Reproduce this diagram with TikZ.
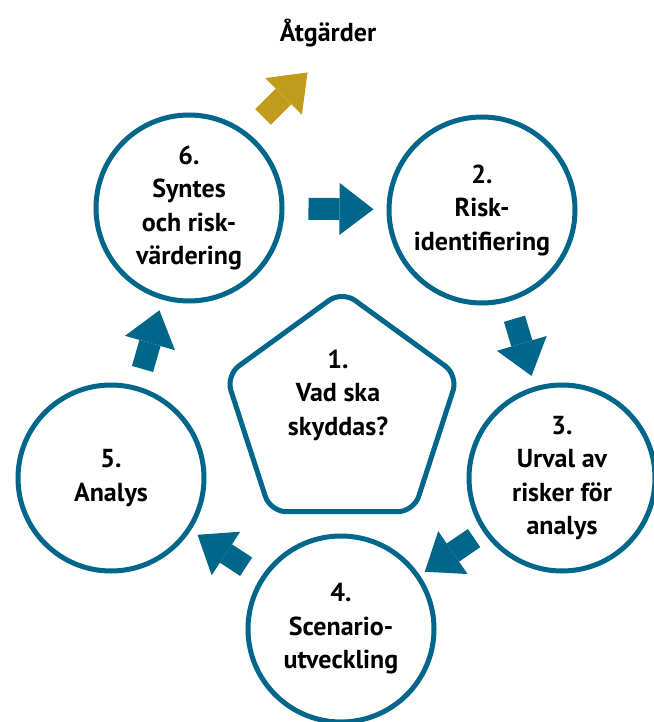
\documentclass[tikz,border=0pt]{standalone}
\usepackage{fontspec}
\setmainfont{PT Sans}
\usetikzlibrary{arrows.meta,shapes.geometric}
\definecolor{riskblue}{RGB}{0,102,138}
\definecolor{riskgold}{RGB}{193,156,28}
\begin{document}
\begin{tikzpicture}[x=1pt,y=1pt,align=center,font=\fontsize{26}{33.5}\selectfont\bfseries,
  fas/.style={circle,draw=riskblue,line width=5pt,minimum size=186pt,inner sep=0pt},
  pil/.style={riskblue,line width=22pt,-{Triangle[length=34pt,width=52pt,line width=0pt]},
    shorten <=18pt,shorten >=11pt}]
  \useasboundingbox (0,0) rectangle (653,-722);
  \node[fas] (c6) at (189,-208) {6.\\Syntes\\och risk-\\värdering};
  \node[fas] (c2) at (482,-210) {2.\\Risk-\\identifiering};
  \node[fas] (c3) at (562,-478) {3.\\Urval av\\risker för\\analys};
  \node[fas] (c4) at (341,-629) {4.\\Scenario-\\utveckling};
  \node[fas] (c5) at (111,-478) {5.\\Analys};
  \node[regular polygon,regular polygon sides=5,draw=riskblue,line width=5pt,
    minimum size=244pt,inner sep=0pt,rounded corners=16pt] (p1) at (342,-413) {};
  \node (t1) at (338,-395) {1.\\Vad ska\\skyddas?};
  \draw[pil,shorten <=24pt,shorten >=13pt] (c6) -- (c2);
  \draw[pil] (c2) -- (c3);
  \draw[pil,shorten <=11pt,shorten >=6pt] (c3) -- (c4);
  \draw[pil,shorten >=8pt] (c4) -- (c5);
  \draw[pil] (c5) -- (c6);
  \node (atg) at (328,-33) {Åtgärder};
  \coordinate (g) at (263,-117);
  \draw[pil,riskgold,shorten <=0pt,shorten >=0pt] (g) -- ++(45:63);
\end{tikzpicture}
\end{document}
